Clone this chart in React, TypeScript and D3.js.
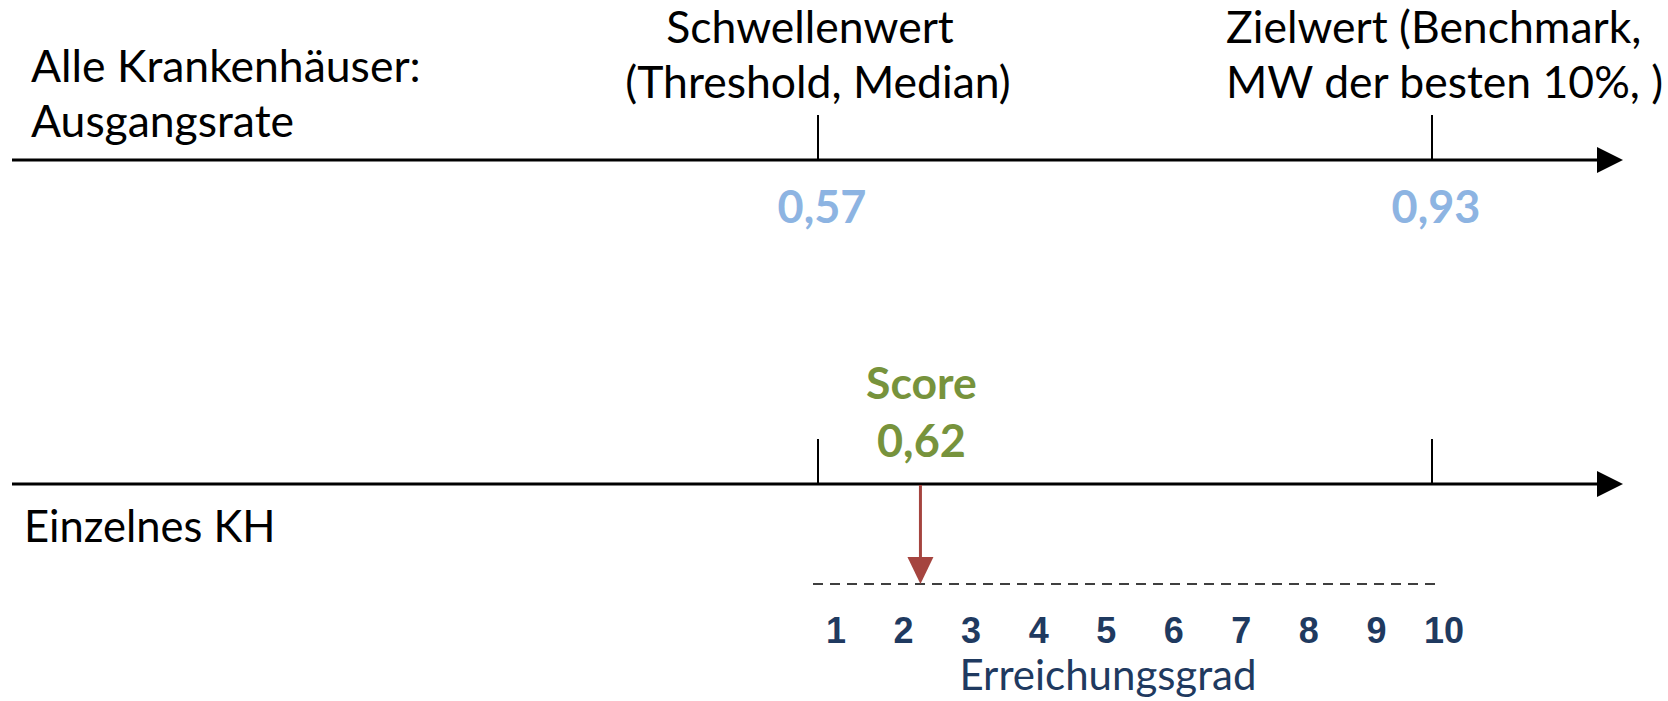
import React, { useRef, useEffect } from "react";
import * as d3 from "d3";

// values shown on the chart
const thresholdValue = 0.57;
const benchmarkValue = 0.93;
const scoreValue = 0.62;
const grades = [1, 2, 3, 4, 5, 6, 7, 8, 9, 10];

// texts
const topRowLabel = ["Alle Krankenhäuser:", "Ausgangsrate"];
const thresholdLabel = ["Schwellenwert", "(Threshold, Median)"];
const benchmarkLabel = ["Zielwert (Benchmark,", "MW der besten 10%, )"];
const bottomRowLabel = "Einzelnes KH";
const scoreLabel = "Score";
const gradeTitle = "Erreichungsgrad";

const W = 1668;
const H = 701;
const FONT = "Lato, 'Open Sans', sans-serif";

const fmt = (v: number) => d3.format(".2f")(v).replace(".", ",");

function App() {
  const svgRef = useRef<SVGSVGElement | null>(null);

  useEffect(() => {
    const svg = d3.select(svgRef.current);
    svg.selectAll("*").remove();

    const topY = 160;
    const bottomY = 484;
    const axisStart = 12;
    const axisEnd = 1623;
    const headLen = 26;

    const valueScale = d3
      .scaleLinear()
      .domain([thresholdValue, benchmarkValue])
      .range([818, 1432]);

    const gradeScale = d3
      .scaleLinear()
      .domain([grades[0], grades[grades.length - 1]])
      .range([836, 1444]);

    // score expressed as Erreichungsgrad
    const scoreGrade =
      grades[0] +
      ((grades.length - 1) * (scoreValue - thresholdValue)) /
        (benchmarkValue - thresholdValue);
    const arrowX = gradeScale(scoreGrade);

    // both axis lines with arrow heads
    [topY, bottomY].forEach((y) => {
      svg
        .append("line")
        .attr("x1", axisStart)
        .attr("x2", axisEnd - headLen + 2)
        .attr("y1", y)
        .attr("y2", y)
        .attr("stroke", "#000")
        .attr("stroke-width", 3);
      svg
        .append("path")
        .attr(
          "d",
          `M${axisEnd - headLen},${y - 13}L${axisEnd},${y}L${axisEnd - headLen},${y + 13}Z`
        )
        .attr("fill", "#000");

      // ticks at threshold and benchmark
      [thresholdValue, benchmarkValue].forEach((v) => {
        svg
          .append("line")
          .attr("x1", valueScale(v))
          .attr("x2", valueScale(v))
          .attr("y1", y - 45)
          .attr("y2", y)
          .attr("stroke", "#000")
          .attr("stroke-width", 2);
      });
    });

    const text = (
      x: number,
      y: number,
      t: string,
      opts: { anchor?: string; fill?: string; size?: number; weight?: string; family?: string } = {}
    ) =>
      svg
        .append("text")
        .attr("x", x)
        .attr("y", y)
        .attr("text-anchor", opts.anchor || "start")
        .attr("fill", opts.fill || "#000")
        .style("font-family", opts.family || FONT)
        .style("font-size", `${opts.size || 44.5}px`)
        .style("font-weight", opts.weight || "normal")
        .text(t);

    // left row labels
    text(31, 82, topRowLabel[0]);
    text(31, 137, topRowLabel[1]);
    text(24, 542, bottomRowLabel, { size: 43.5 });

    // threshold / benchmark labels above the top axis
    text(valueScale(thresholdValue) - 8, 43, thresholdLabel[0], { anchor: "middle" });
    text(valueScale(thresholdValue), 98, thresholdLabel[1], { anchor: "middle" });
    text(1226, 43, benchmarkLabel[0]);
    text(1226, 98, benchmarkLabel[1]);

    // values under the top axis
    [thresholdValue, benchmarkValue].forEach((v) => {
      text(valueScale(v) + 4, 223, fmt(v), {
        anchor: "middle",
        fill: "#8DB4E2",
        weight: "bold",
        size: 45,
      });
    });

    // score label
    text(arrowX + 1, 399, scoreLabel, { anchor: "middle", fill: "#77933C", weight: "bold", size: 44.5 });
    text(arrowX + 1, 457, fmt(scoreValue), { anchor: "middle", fill: "#77933C", weight: "bold", size: 45 });

    // dashed Erreichungsgrad line
    svg
      .append("line")
      .attr("x1", gradeScale(grades[0]) - 23)
      .attr("x2", gradeScale(grades[grades.length - 1]) - 6)
      .attr("y1", 584)
      .attr("y2", 584)
      .attr("stroke", "#000")
      .attr("stroke-width", 1.6)
      .attr("stroke-dasharray", "10,7");

    // red arrow from score to grade line
    svg
      .append("line")
      .attr("x1", arrowX)
      .attr("x2", arrowX)
      .attr("y1", bottomY + 1)
      .attr("y2", 560)
      .attr("stroke", "#A5443F")
      .attr("stroke-width", 3);
    svg
      .append("path")
      .attr("d", `M${arrowX - 13},557L${arrowX + 13},557L${arrowX},584Z`)
      .attr("fill", "#A5443F");

    // grade numbers
    svg
      .selectAll(".grade")
      .data(grades)
      .enter()
      .append("text")
      .attr("class", "grade")
      .attr("x", (d) => gradeScale(d))
      .attr("y", 643)
      .attr("text-anchor", "middle")
      .attr("fill", "#1F3A60")
      .style("font-family", "'Liberation Sans', Arial, sans-serif")
      .style("font-size", "36px")
      .style("font-weight", "bold")
      .text((d) => d);

    text(1108, 690, gradeTitle, { anchor: "middle", fill: "#1F3A60", size: 42 });
  }, []);

  return (
    <div style={{ position: "fixed", left: 0, top: 0, width: W, height: H, background: "#fff" }}>
      <svg ref={svgRef} width={W} height={H} style={{ display: "block" }}></svg>
    </div>
  );
}

export default App;
